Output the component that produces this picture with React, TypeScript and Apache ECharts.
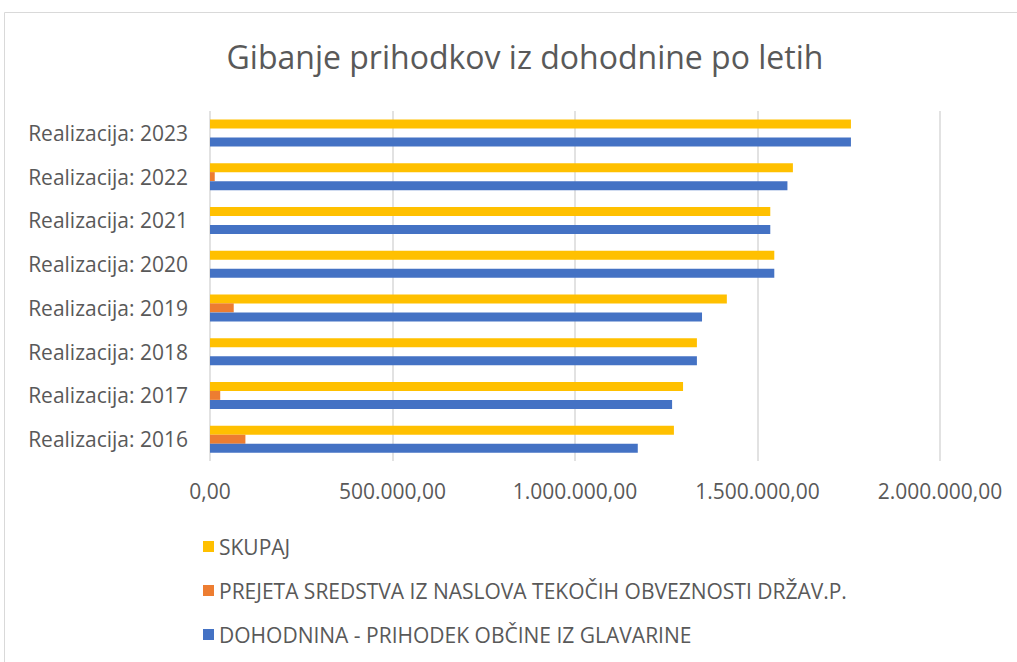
import React, { useEffect, useRef } from "react";
import * as echarts from "echarts";

const categories = [
  "Realizacija: 2016",
  "Realizacija: 2017",
  "Realizacija: 2018",
  "Realizacija: 2019",
  "Realizacija: 2020",
  "Realizacija: 2021",
  "Realizacija: 2022",
  "Realizacija: 2023",
];
const dohodnina = [1172000, 1266000, 1334000, 1348000, 1546000, 1535000, 1582000, 1756000];
const prejeta = [97000, 28000, 0, 65000, 0, 0, 13000, 0];
const skupaj = [1271000, 1296000, 1334000, 1416000, 1546000, 1535000, 1597000, 1756000];

const nameSkupaj = "SKUPAJ";
const namePrejeta = "PREJETA SREDSTVA IZ NASLOVA TEKOČIH OBVEZNOSTI DRŽAV.P.";
const nameDohodnina = "DOHODNINA - PRIHODEK OBČINE IZ GLAVARINE";

const fmt = (v: number) => {
  const s = Math.round(v).toString().replace(/\B(?=(\d{3})+(?!\d))/g, ".");
  return s + ",00";
};

const FONT = "'Open Sans', sans-serif";
const TXT = "#595959";

export default function App() {
  const ref = useRef<HTMLDivElement>(null);
  useEffect(() => {
    const chart = echarts.init(ref.current!, null, { renderer: "svg" });
    chart.setOption({
      animation: false,
      backgroundColor: "#ffffff",
      textStyle: { fontFamily: FONT },
      graphic: [
        {
          type: "rect",
          shape: { x: 4.5, y: 12.5, width: 1030, height: 700 },
          style: { fill: "none", stroke: "#d9d9d9", lineWidth: 1 },
          silent: true,
          z: -1,
        },
      ],
      title: {
        text: "Gibanje prihodkov iz dohodnine po letih",
        left: 520,
        textAlign: "center",
        top: 35,
        textStyle: { fontFamily: FONT, fontSize: 32, fontWeight: "normal", color: TXT },
      },
      legend: {
        orient: "vertical",
        left: 198,
        top: 531,
        itemGap: 23,
        itemWidth: 11,
        itemHeight: 11,
        icon: "rect",
        data: [nameSkupaj, namePrejeta, nameDohodnina],
        textStyle: { fontFamily: FONT, fontSize: 21, lineHeight: 21, color: TXT },
      },
      grid: { left: 210, right: 77, top: 111, height: 350, containLabel: false },
      xAxis: {
        type: "value",
        min: 0,
        max: 2000000,
        interval: 500000,
        axisLine: { show: false },
        axisTick: { show: false },
        splitLine: { lineStyle: { color: "#d9d9d9", width: 1.5 } },
        axisLabel: {
          formatter: (v: number) => fmt(v),
          fontFamily: FONT,
          fontSize: 21,
          color: TXT,
          margin: 19,
        },
      },
      yAxis: {
        type: "category",
        data: categories,
        axisLine: { show: false },
        axisTick: { show: false },
        axisLabel: { fontFamily: FONT, fontSize: 21, color: TXT, margin: 22 },
      },
      series: [
        {
          name: nameSkupaj,
          type: "bar",
          data: skupaj,
          barWidth: 9,
          barGap: "0%",
          barCategoryGap: "38%",
          itemStyle: { color: "#FFC000" },
        },
        {
          name: namePrejeta,
          type: "bar",
          data: prejeta,
          barWidth: 9,
          barGap: "0%",
          itemStyle: { color: "#ED7D31" },
        },
        {
          name: nameDohodnina,
          type: "bar",
          data: dohodnina,
          barWidth: 9,
          barGap: "0%",
          itemStyle: { color: "#4472C4" },
        },
      ],
    });
    return () => chart.dispose();
  }, []);
  return (
    <div
      ref={ref}
      style={{ position: "fixed", left: 0, top: 0, width: 1017, height: 662 }}
    />
  );
}
